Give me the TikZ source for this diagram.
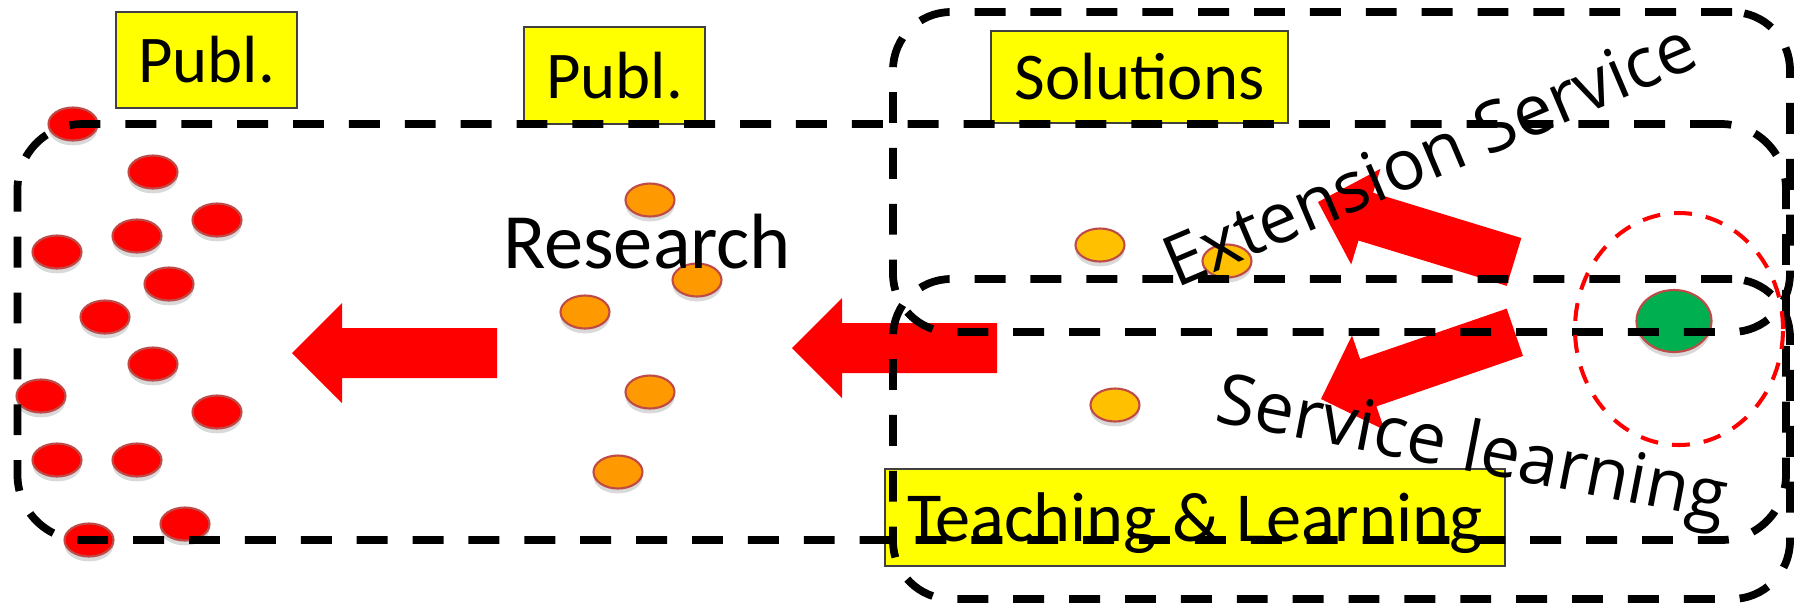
\documentclass[tikz,border=0pt]{standalone}
\usepackage{fontspec}
\setmainfont{Carlito}
\newfontfamily\swingfont{Open Sans}
\usepackage{tikz}
\usetikzlibrary{positioning,shapes,shadows}

\definecolor{arrowred}{HTML}{FF0000}
\definecolor{dotedge}{HTML}{BE4B48}
\definecolor{resorange}{HTML}{FF9900}
\definecolor{extorange}{HTML}{FFC000}
\definecolor{markgreen}{HTML}{00B050}
\definecolor{tagyellow}{HTML}{FFFF00}

\tikzset{
  fatarrow/.pic={\fill[arrowred] (0,0) -- (0.5,0.5) -- (0.5,0.25) -- (2.05,0.25) -- (2.05,-0.25) -- (0.5,-0.25) -- (0.5,-0.5) -- cycle;}
}

\begin{document}
\begin{tikzpicture}[
        region/.style = {draw, rectangle, inner sep=0, line width=2.2pt, dash pattern=on 8.8pt off 7.1pt},
        tag/.style = {draw=black!75, line width=0.4pt, fill=tagyellow, inner sep=0, font=\fontsize{19}{22}\selectfont},
        dot/.style = {ellipse, draw=dotedge, line width=0.6pt, inner sep=0, minimum width=0.49cm, minimum height=0.33cm,
            drop shadow={shadow xshift=0pt, shadow yshift=-1.4pt, opacity=0.3}},
        reddot/.style = {dot, fill=arrowred},
        resdot/.style = {dot, fill=resorange},
        extdot/.style = {dot, fill=extorange},
        swing/.style = {font=\swingfont\fontsize{20}{24}\selectfont, anchor=base, inner sep=0}]
    \useasboundingbox (0,0) rectangle (18,-6.05);
    % labels in yellow
    \node[tag, minimum width=1.81cm, minimum height=0.96cm] (publA) at (2.065,-0.60) {Publ.};
    \node[tag, minimum width=1.81cm, minimum height=0.97cm] (publB) at (6.145,-0.755) {Publ.};
    \node[tag, minimum width=2.97cm, minimum height=0.92cm] (solutions) at (11.395,-0.77) {Solutions};
    \node[tag, minimum width=6.20cm, minimum height=0.97cm, text depth=0pt, font=\fontsize{20}{24}\selectfont] (teaching) at (11.95,-5.175) {Teaching \& Learning};
    % publications
    \node[reddot] (p1) at (0.73,-1.24) {};
    \node[reddot] (p2) at (1.53,-1.72) {};
    \node[reddot] (p3) at (2.17,-2.20) {};
    \node[reddot] (p4) at (1.37,-2.36) {};
    \node[reddot] (p5) at (0.57,-2.52) {};
    \node[reddot] (p6) at (1.69,-2.84) {};
    \node[reddot] (p7) at (1.05,-3.17) {};
    \node[reddot] (p8) at (1.53,-3.64) {};
    \node[reddot] (p9) at (0.41,-3.96) {};
    \node[reddot] (p10) at (2.17,-4.12) {};
    \node[reddot] (p11) at (0.57,-4.60) {};
    \node[reddot] (p12) at (1.37,-4.60) {};
    \node[reddot] (p13) at (1.85,-5.24) {};
    \node[reddot] (p14) at (0.89,-5.40) {};
    % research
    \node[resdot] (r1) at (6.50,-2.00) {};
    \node[resdot] (r2) at (6.97,-2.80) {};
    \node[resdot] (r3) at (5.85,-3.12) {};
    \node[resdot] (r4) at (6.50,-3.92) {};
    \node[resdot] (r5) at (6.18,-4.72) {};
    % problems
    \node[extdot] (e1) at (11.00,-2.45) {};
    \node[extdot] (e2) at (12.27,-2.61) {};
    \node[extdot] (s1) at (11.15,-4.05) {};
    \node[dot, fill=markgreen, minimum width=0.75cm, minimum height=0.62cm] (need) at (16.74,-3.21) {};
    % flows
    \pic at (2.92,-3.53) {fatarrow};
    \pic at (7.92,-3.48) {fatarrow};
    \pic[rotate=-17] at (13.18,-2.02) {fatarrow};
    \pic[rotate=19] at (13.21,-3.99) {fatarrow};
    % texts
    \node[font=\fontsize{22.3}{26}\selectfont, anchor=base, inner sep=0] (research) at (6.47,-2.68) {Research};
    \node[swing, rotate=23] (extension) at (14.39,-1.77) {Extension Service};
    \node[swing, rotate=-11] (learning) at (14.68,-4.71) {Service learning};
    % the three areas
    \node[region, rounded corners=0.65cm, minimum width=17.685cm, minimum height=4.16cm] (resbox) at (9.0175,-3.32) {};
    \node[region, rounded corners=0.58cm, minimum width=8.97cm, minimum height=3.20cm] (extbox) at (13.415,-1.72) {};
    \node[region, rounded corners=0.58cm, minimum width=8.97cm, minimum height=3.20cm] (slbox) at (13.415,-4.39) {};
    \node[ellipse, draw=arrowred, line width=1.15pt, dash pattern=on 5.1pt off 4pt, inner sep=0, minimum width=2.08cm, minimum height=2.32cm] (zone) at (16.79,-3.29) {};
\end{tikzpicture}
\end{document}
